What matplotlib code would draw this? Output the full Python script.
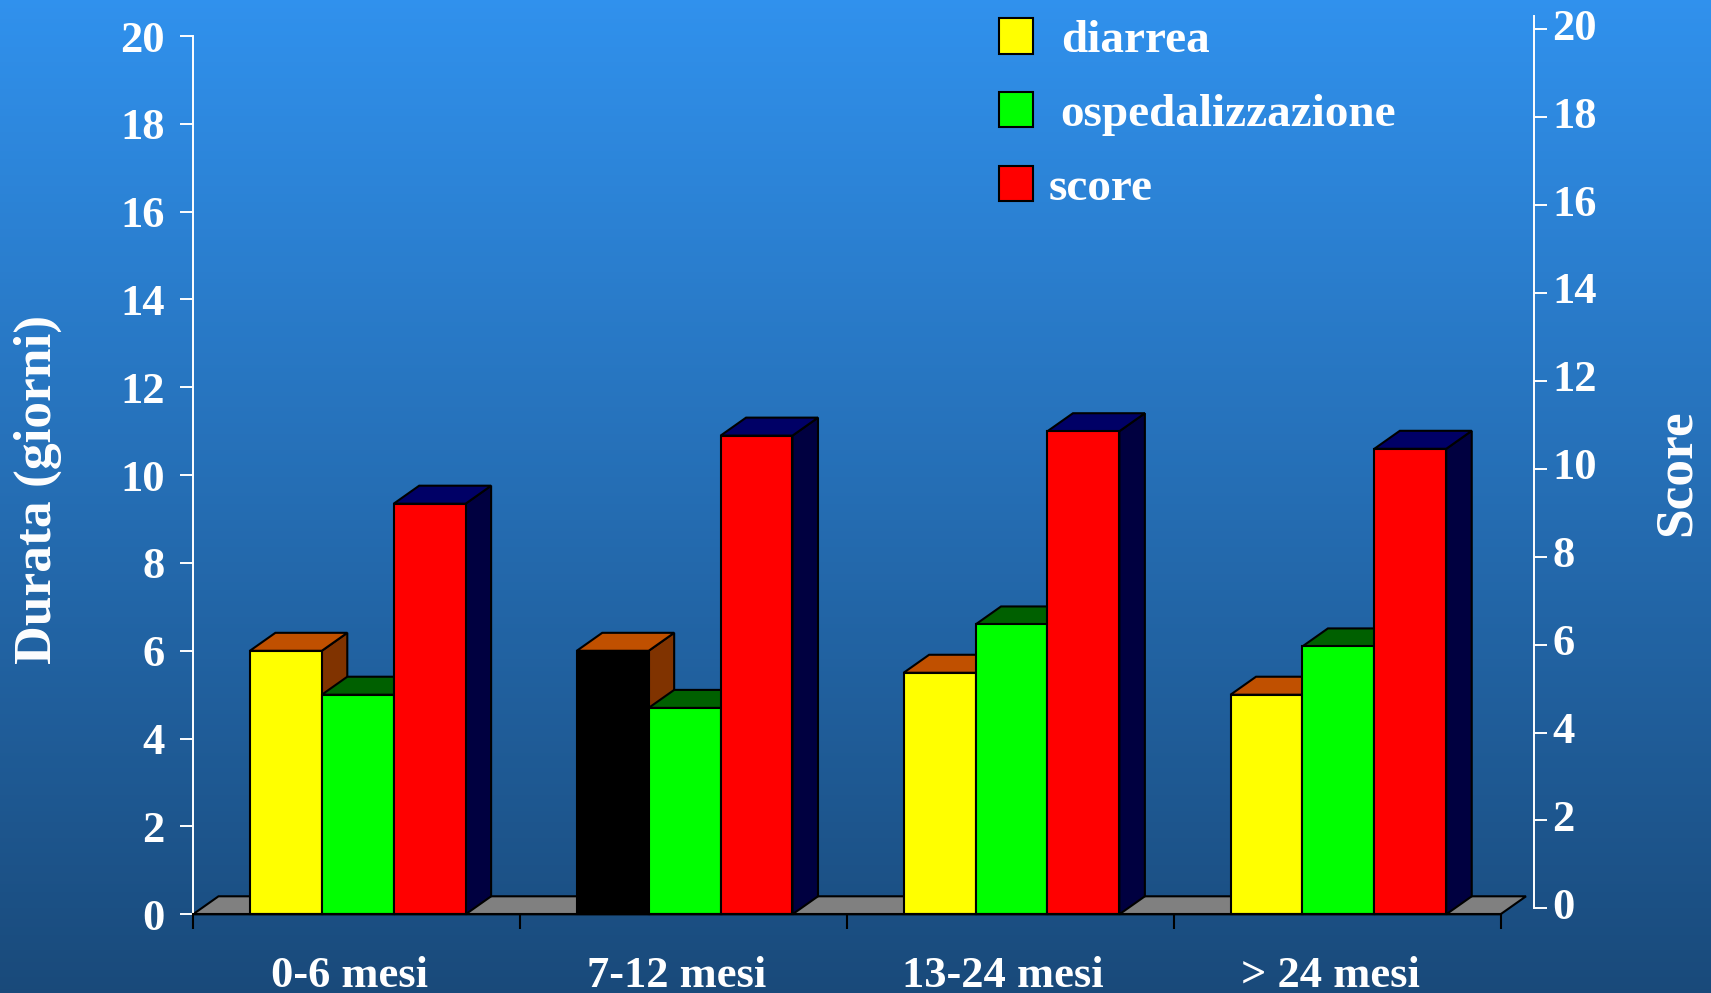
import numpy as np
import matplotlib.pyplot as plt
from matplotlib.patches import Polygon, Rectangle
from matplotlib.transforms import ScaledTranslation

categories = ["0-6 mesi", "7-12 mesi", "13-24 mesi", "> 24 mesi"]
series_names = ["diarrea", "ospedalizzazione", "score"]
diarrea = [6.0, 6.0, 5.5, 5.0]
ospedalizzazione = [5.0, 4.7, 6.6, 6.1]
score = [9.35, 10.9, 11.0, 10.6]
y_ticks = list(range(0, 21, 2))

# front / top / side colours of each series
front_colors = ["#FFFF00", "#00FF00", "#FF0000"]
top_colors = ["#C05000", "#006000", "#000066"]
side_colors = ["#803300", "#004000", "#000040"]
# the 7-12 diarrea bar is filled black
diarrea_fronts = ["#FFFF00", "#000000", "#FFFF00", "#FFFF00"]

plt.rcParams["font.family"] = "Liberation Serif"
plt.rcParams["font.weight"] = "bold"

W, H = 1711, 993
fig = plt.figure(figsize=(W / 100, H / 100), dpi=100)

# vertical blue gradient behind everything
bg = fig.add_axes([0, 0, 1, 1], zorder=-10)
top_rgb = np.array([0.19, 0.57, 0.93])
bot_rgb = np.array([0.10, 0.29, 0.48])
t = np.linspace(0, 1, 256)[:, None, None]
bg.imshow(top_rgb + (bot_rgb - top_rgb) * t, aspect="auto", extent=[0, 1, 0, 1])
bg.axis("off")

# main axes (pixel box of the plotting area)
x0, x1 = 193, 1500.5
y0, y1 = 914.3, 36
ax = fig.add_axes([x0 / W, 1 - y0 / H, (x1 - x0) / W, (y0 - y1) / H])
ax.set_xlim(0, len(categories))
ax.set_ylim(0, 20)
ax.patch.set_visible(False)

sx = (x1 - x0) / len(categories)
sy = (y0 - y1) / 20
dx, dy = 25.5 / sx, 18 / sy   # oblique depth of the 3D boxes

# floor
floor = Polygon([(0, 0), (len(categories), 0), (len(categories) + dx, dy), (dx, dy)],
                closed=True, facecolor="#808080", edgecolor="black", lw=1.5,
                clip_on=False, zorder=1)
ax.add_patch(floor)


def bar3d(x, w, h, front, top, side, z):
    kw = dict(closed=True, edgecolor="black", lw=1.5, clip_on=False,
              joinstyle="miter")
    ax.add_patch(Polygon([(x + w, 0), (x + w + dx, dy), (x + w + dx, h + dy), (x + w, h)],
                         facecolor=side, zorder=z, **kw))
    ax.add_patch(Polygon([(x, h), (x + w, h), (x + w + dx, h + dy), (x + dx, h + dy)],
                         facecolor=top, zorder=z, **kw))
    ax.add_patch(Polygon([(x, 0), (x + w, 0), (x + w, h), (x, h)],
                         facecolor=front, zorder=z, **kw))


bw = 0.22
values = [diarrea, ospedalizzazione, score]
z = 2
for i in range(len(categories)):
    for k, vals in enumerate(values):
        front = diarrea_fronts[i] if k == 0 else front_colors[k]
        left = i + 0.5 - 1.5 * bw + k * bw + 0.004
        bar3d(left, bw, vals[i], front, top_colors[k], side_colors[k], z)
        z += 1

# axes styling
for s in ["top", "right"]:
    ax.spines[s].set_visible(False)
ax.spines["left"].set_color("white")
ax.spines["left"].set_linewidth(1.4)
ax.spines["bottom"].set_color("black")
ax.spines["bottom"].set_linewidth(1.5)
ax.spines["bottom"].set_zorder(50)
ax.set_yticks(y_ticks)
ax.tick_params(axis="y", colors="white", length=9.4, width=1.4, pad=11, labelsize=32)
ax.set_xticks(range(len(categories) + 1))
ax.set_xticklabels([])
ax.tick_params(axis="x", color="black", length=11, width=1.5)

label_y = -(987 - y0) / (y0 - y1)
for i, cat in enumerate(categories):
    ax.text(i + 0.5 - 7 / sx, label_y, cat, transform=ax.get_xaxis_transform(),
            ha="center", va="baseline", color="white", fontsize=32)

# secondary score axis
rx, r0, rtop = 1533.5, 908.3, 16
ax2 = fig.add_axes([(rx - 10) / W, 1 - r0 / H, 10 / W, (r0 - rtop) / H])
ax2.set_ylim(0, (r0 - rtop) / 43.95)
ax2.patch.set_visible(False)
for s in ["top", "left", "bottom"]:
    ax2.spines[s].set_visible(False)
ax2.spines["right"].set_color("white")
ax2.spines["right"].set_linewidth(1.4)
ax2.set_xticks([])
ax2.yaxis.tick_right()
ax2.set_yticks(y_ticks)
ax2.tick_params(axis="y", colors="white", length=9.4, width=1.4, pad=4.3, labelsize=32)
# right-hand labels sit a little above their ticks
lift = ScaledTranslation(0, 5 / 100, fig.dpi_scale_trans)
for lab in ax2.get_yticklabels():
    lab.set_transform(lab.get_transform() + lift)

# axis titles
fig.text(38 / W, 1 - 489 / H, "Durata (giorni)", rotation=90, ha="center", va="center",
         color="white", fontsize=38.5)
fig.text(1677 / W, 1 - 473 / H, "Score", rotation=90, ha="center", va="center",
         color="white", fontsize=38.5)

# legend
sq_tops = [18.3, 91.7, 165.7]
txt_x = [1060.7, 1060.7, 1048.3]
txt_base = [51.7, 126, 200]
for k, name in enumerate(series_names):
    fig.patches.append(Rectangle((999 / W, 1 - (sq_tops[k] + 35.5) / H), 34 / W, 35.5 / H,
                                 transform=fig.transFigure, facecolor=front_colors[k],
                                 edgecolor="black", lw=1.5))
    fig.text(txt_x[k] / W, 1 - txt_base[k] / H, name, ha="left", va="baseline",
             color="white", fontsize=34)

fig.savefig("out.png", dpi=100)
